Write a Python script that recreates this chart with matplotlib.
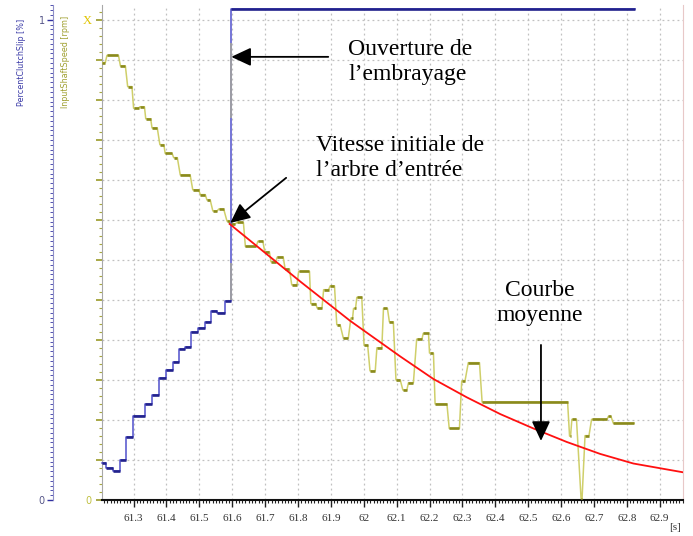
import matplotlib
matplotlib.use('Agg')
import matplotlib.pyplot as plt
from matplotlib.ticker import MultipleLocator

# ---------------- data ----------------
# PercentClutchSlip (normalised 0..1), step samples
slip_t = [61.204, 61.217, 61.237, 61.258, 61.278, 61.298, 61.336, 61.356, 61.377,
          61.400, 61.420, 61.437, 61.456, 61.476, 61.496, 61.516, 61.536, 61.555,
          61.577, 61.595, 62.825]
slip_v = [0.078, 0.067, 0.060, 0.083, 0.131, 0.175, 0.199, 0.219, 0.255,
          0.271, 0.288, 0.315, 0.318, 0.349, 0.359, 0.371, 0.394, 0.390,
          0.415, 1.023, 1.023]
clutch_open_t = 61.595
gray_lo = [0.417, 0.796]
gray_hi = [0.494, 0.952]

# InputShaftSpeed (normalised 0..1): sample levels with start / end times
speed_t1 = [61.204, 61.219, 61.260, 61.282, 61.300, 61.319, 61.337, 61.356, 61.380, 61.396,
            61.422, 61.442, 61.480, 61.503, 61.523, 61.541, 61.559, 61.584, 61.592, 61.614,
            61.640, 61.678, 61.699, 61.718, 61.737, 61.761, 61.781, 61.802, 61.839, 61.858,
            61.878, 61.898, 61.918, 61.938, 61.961, 61.969, 61.979, 62.001, 62.019, 62.040,
            62.060, 62.078, 62.098, 62.119, 62.136, 62.161, 62.181, 62.200, 62.217, 62.260,
            62.298, 62.318, 62.360, 62.626, 62.633, 62.661, 62.673, 62.693, 62.744, 62.759]
speed_t2 = [61.214, 61.254, 61.275, 61.295, 61.315, 61.333, 61.352, 61.372, 61.392, 61.417,
            61.433, 61.472, 61.498, 61.518, 61.533, 61.554, 61.574, 61.592, 61.609, 61.634,
            61.673, 61.693, 61.713, 61.732, 61.755, 61.774, 61.797, 61.835, 61.854, 61.873,
            61.893, 61.911, 61.928, 61.953, 61.966, 61.975, 61.994, 62.012, 62.035, 62.055,
            62.072, 62.090, 62.111, 62.131, 62.151, 62.177, 62.197, 62.212, 62.253, 62.291,
            62.308, 62.352, 62.620, 62.629, 62.647, 62.664, 62.685, 62.740, 62.752, 62.822]
speed_v = [0.911, 0.926, 0.904, 0.861, 0.816, 0.819, 0.794, 0.775, 0.740, 0.722,
           0.713, 0.677, 0.646, 0.636, 0.625, 0.602, 0.606, 0.581, 0.575, 0.578,
           0.528, 0.539, 0.517, 0.496, 0.506, 0.481, 0.448, 0.476, 0.409, 0.400,
           0.438, 0.446, 0.365, 0.337, 0.379, 0.399, 0.422, 0.322, 0.269, 0.317,
           0.399, 0.371, 0.250, 0.229, 0.244, 0.335, 0.347, 0.306, 0.200, 0.149,
           0.248, 0.286, 0.204, 0.133, 0.168, 0.003, 0.134, 0.168, 0.174, 0.160]

# "Courbe moyenne" (read points)
mean_t = [61.592, 61.705, 61.807, 61.959, 62.111, 62.212, 62.313, 62.415, 62.516,
          62.617, 62.719, 62.820, 62.977]
mean_v = [0.575, 0.512, 0.455, 0.373, 0.299, 0.252, 0.214, 0.179, 0.149,
          0.121, 0.096, 0.076, 0.057]

xtick_vals = [61.3, 61.4, 61.5, 61.6, 61.7, 61.8, 61.9, 62.0, 62.1, 62.2, 62.3,
              62.4, 62.5, 62.6, 62.7, 62.8, 62.9]
xtick_labels = ['61.3', '61.4', '61.5', '61.6', '61.7', '61.8', '61.9', '62', '62.1',
                '62.2', '62.3', '62.4', '62.5', '62.6', '62.7', '62.8', '62.9']
grid_steps = 12

# ---------------- figure ----------------
W, H = 693, 536
fig = plt.figure(figsize=(W / 100, H / 100), dpi=100)
ax = fig.add_axes([101.7 / W, 36 / H, 581.3 / W, 495 / H])
ax.set_xlim(61.203, 62.971)
ax.set_ylim(0, 1.031)

serif = 'Liberation Serif'

# ticks / grid
ax.set_xticks(xtick_vals)
ax.set_xticklabels(xtick_labels, fontsize=8, family=serif, color='#333333')
ax.xaxis.set_minor_locator(MultipleLocator(0.01))
ax.tick_params(axis='x', which='major', length=5, width=1, color='#222222', pad=5)
ax.tick_params(axis='x', which='minor', length=2.5, width=0.8, color='#222222')

yt = [i / grid_steps for i in range(grid_steps + 1)]
ax.set_yticks(yt)
ylabels = [''] * len(yt)
ylabels[0] = '0'
ylabels[-1] = 'X'
ax.set_yticklabels(ylabels)
ax.yaxis.set_minor_locator(MultipleLocator(1 / 60))
ax.tick_params(axis='y', which='major', length=4, width=1.2, color='#9a9a28', pad=3,
               labelsize=7)
ax.tick_params(axis='y', which='minor', length=2, width=0.8, color='#a8a840')
tl = ax.get_yticklabels()
tl[0].set_color('#c0c040')
tl[-1].set_color('#e0c400')
tl[-1].set_family(serif)
tl[-1].set_fontsize(9)

ax.grid(which='major', color='#c0c0c0', linestyle=(0, (1.5, 2.5)), linewidth=0.9)
ax.set_axisbelow(True)

ax.spines['top'].set_visible(False)
ax.spines['right'].set_color('#e8c8c8')
ax.spines['left'].set_color('#a8a8a8')
ax.spines['bottom'].set_color('#111111')
ax.spines['bottom'].set_linewidth(1.5)

# blue secondary axis (PercentClutchSlip)
sec = ax.secondary_yaxis((53 - 101.7) / 581.3)
sec.set_alignment('left')
sec.set_yticks([0, 1])
sec.set_yticklabels(['0', '1'])
sec.yaxis.set_minor_locator(MultipleLocator(0.01))
sec.spines['left'].set_color('#9090c8')
sec.tick_params(axis='y', which='major', length=4, width=1, color='#3030a0',
                labelsize=7, labelcolor='#555588', pad=2)
sec.tick_params(axis='y', which='minor', length=2, width=0.7, color='#5050b0')

# ---------------- series ----------------
# input shaft speed
pts_t, pts_v = [], []
for a, b, v in zip(speed_t1, speed_t2, speed_v):
    pts_t += [a, b]
    pts_v += [v, v]
ax.plot(pts_t, pts_v, color='#cfcf6a', lw=1.1, zorder=3)
ax.hlines(speed_v, speed_t1, speed_t2, color='#8a8a1c', lw=1.9, zorder=4)

# clutch slip
ax.plot(slip_t, slip_v, drawstyle='steps-post', color='#5050cc', lw=1.1, zorder=5,
        clip_on=False)
ax.hlines(slip_v[:-1], slip_t[:-1], slip_t[1:], color='#22228c', lw=1.9, zorder=6,
          clip_on=False)
ax.vlines([clutch_open_t] * len(gray_lo), gray_lo, gray_hi, color='#a0a0a0', lw=1.3,
          zorder=6)

# mean curve
ax.plot(mean_t, mean_v, color='#ff1010', lw=1.3, zorder=7)

# ---------------- annotations ----------------
arrow = dict(arrowstyle='-|>,head_length=0.6,head_width=0.28', color='black', lw=1.3,
             shrinkA=0, shrinkB=0, mutation_scale=20)
ax.annotate('', xy=(61.597, 0.923), xytext=(61.892, 0.923), arrowprops=arrow, zorder=9)
ax.annotate('', xy=(61.594, 0.577), xytext=(61.764, 0.671), arrowprops=arrow, zorder=9)
ax.annotate('', xy=(62.539, 0.123), xytext=(62.539, 0.323), arrowprops=arrow, zorder=9)

fig.text(348 / W, 1 - 62 / H, 'Ouverture de\nl’embrayage', family=serif, fontsize=17,
         ha='left', va='center')
fig.text(316 / W, 1 - 158 / H, 'Vitesse initiale de\nl’arbre d’entrée', family=serif,
         fontsize=17, ha='left', va='center')
fig.text(540 / W, 1 - 303 / H, 'Courbe\nmoyenne', family=serif, fontsize=17,
         ha='center', va='center', multialignment='center')

fig.text(22 / W, 1 - 62 / H, 'PercentClutchSlip [%]', rotation=90, color='#3c3ca8',
         fontsize=5.8, ha='center', va='center')
fig.text(65 / W, 1 - 62 / H, 'InputShaftSpeed [rpm]', rotation=90, color='#a0a030',
         fontsize=5.8, ha='center', va='center')
fig.text(675 / W, 1 - 527 / H, '[s]', family=serif, fontsize=8, color='#333333',
         ha='center', va='center')

fig.savefig('out.png', dpi=100)
